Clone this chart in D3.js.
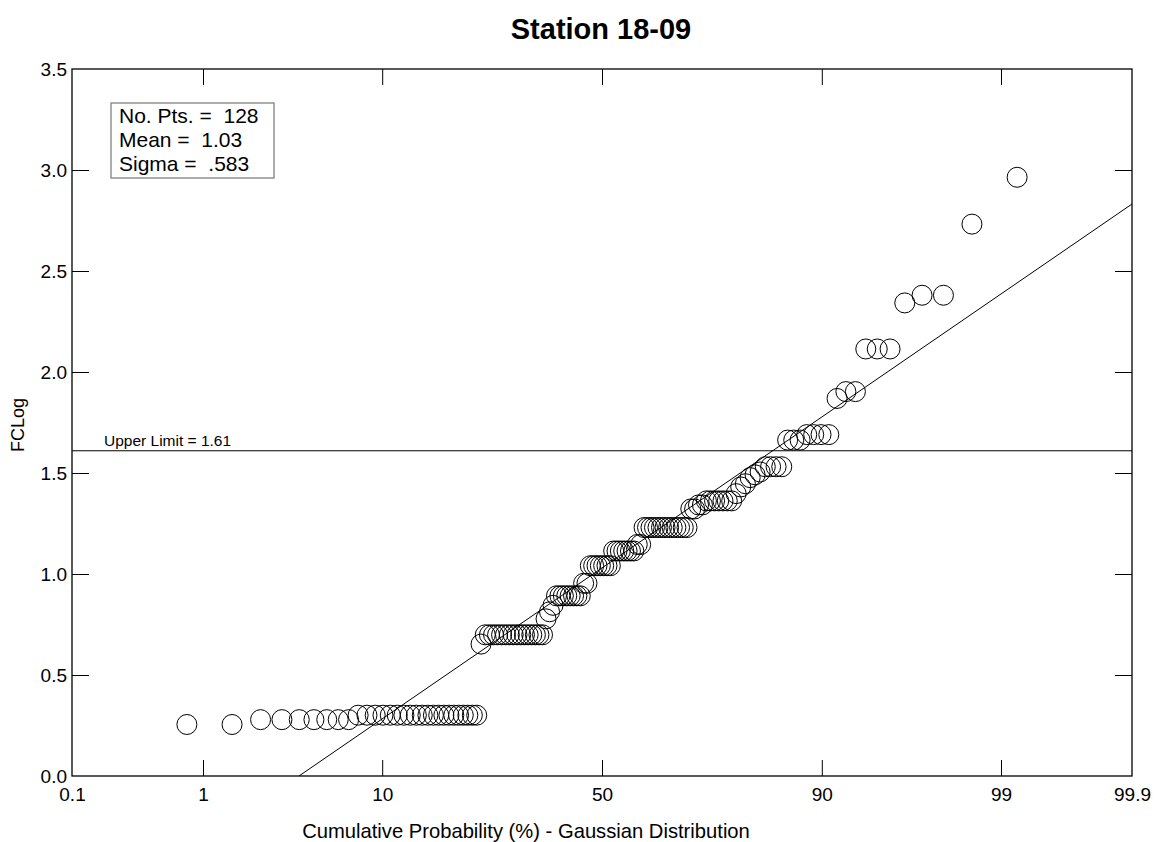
<!DOCTYPE html>
<html>
<head>
<meta charset="utf-8">
<script src="https://cdn.jsdelivr.net/npm/d3@7"></script>
<style>
  html, body { margin: 0; padding: 0; background: #fff; }
  svg { display: block; font-family: "Liberation Sans", Arial, sans-serif; }
</style>
</head>
<body>
<svg id="chart" width="1155" height="842"></svg>
<script>
// ---- data ----
const title = "Station 18-09";
const xTitle = "Cumulative Probability (%) - Gaussian Distribution";
const yTitle = "FCLog";
const probTicks = [0.1, 1, 10, 50, 90, 99, 99.9];
const probTickLabels = ["0.1", "1", "10", "50", "90", "99", "99.9"];
const yTicks = [0.0, 0.5, 1.0, 1.5, 2.0, 2.5, 3.0, 3.5];
const yTickLabels = ["0.0", "0.5", "1.0", "1.5", "2.0", "2.5", "3.0", "3.5"];
const nPts = 128;
const mean = 1.03;
const sigma = 0.583;
const upperLimit = 1.61;
const statLabels = ["No. Pts. =  128", "Mean =  1.03", "Sigma =  .583"];
const limitLabel = "Upper Limit = 1.61";
// sorted FCLog values (rank order)
const fcLog = [
  0.255, 0.255,
  0.279, 0.279, 0.279, 0.279, 0.279, 0.279, 0.279,
  0.301, 0.301, 0.301, 0.301, 0.301, 0.301, 0.301, 0.301, 0.301, 0.301, 0.301,
  0.301, 0.301, 0.301, 0.301, 0.301, 0.301, 0.301, 0.301, 0.301, 0.301,
  0.653,
  0.699, 0.699, 0.699, 0.699, 0.699, 0.699, 0.699, 0.699, 0.699, 0.699, 0.699,
  0.699, 0.699, 0.699, 0.699, 0.699,
  0.778, 0.813, 0.845,
  0.892, 0.892, 0.892, 0.892, 0.892, 0.892, 0.892, 0.892,
  0.954, 0.954,
  1.041, 1.041, 1.041, 1.041, 1.041, 1.041, 1.041,
  1.114, 1.114, 1.114, 1.114, 1.114, 1.114, 1.114,
  1.146, 1.146,
  1.230, 1.230, 1.230, 1.230, 1.230, 1.230, 1.230, 1.230, 1.230, 1.230, 1.230, 1.230, 1.230,
  1.322, 1.322, 1.342, 1.342,
  1.362, 1.362, 1.362, 1.362, 1.362, 1.362, 1.362,
  1.398, 1.431, 1.447, 1.477, 1.491, 1.505,
  1.531, 1.531, 1.531, 1.531,
  1.663, 1.663, 1.663,
  1.690, 1.690, 1.690, 1.690,
  1.869, 1.903, 1.903,
  2.114, 2.114, 2.114,
  2.342, 2.380, 2.380,
  2.732, 2.964
];

// ---- inverse normal CDF (Acklam) ----
function qnorm(p) {
  const a = [-3.969683028665376e+01, 2.209460984245205e+02, -2.759285104469687e+02, 1.383577518672690e+02, -3.066479806614716e+01, 2.506628277459239e+00];
  const b = [-5.447609879822406e+01, 1.615858368580409e+02, -1.556989798598866e+02, 6.680131188771972e+01, -1.328068155288572e+01];
  const c = [-7.784894002430293e-03, -3.223964580411365e-01, -2.400758277161838e+00, -2.549671010243490e+00, 4.374664141464968e+00, 2.938163982698783e+00];
  const d = [7.784695709041462e-03, 3.224671290700398e-01, 2.445134137142996e+00, 3.754408661907416e+00];
  const pl = 0.02425, ph = 1 - pl;
  let q, r;
  if (p < pl) {
    q = Math.sqrt(-2 * Math.log(p));
    return (((((c[0]*q+c[1])*q+c[2])*q+c[3])*q+c[4])*q+c[5]) / ((((d[0]*q+d[1])*q+d[2])*q+d[3])*q+1);
  } else if (p <= ph) {
    q = p - 0.5; r = q * q;
    return (((((a[0]*r+a[1])*r+a[2])*r+a[3])*r+a[4])*r+a[5])*q / (((((b[0]*r+b[1])*r+b[2])*r+b[3])*r+b[4])*r+1);
  } else {
    q = Math.sqrt(-2 * Math.log(1 - p));
    return -(((((c[0]*q+c[1])*q+c[2])*q+c[3])*q+c[4])*q+c[5]) / ((((d[0]*q+d[1])*q+d[2])*q+d[3])*q+1);
  }
}

// ---- layout ----
const L = 72, R = 1132, T = 69, B = 776;
const svg = d3.select("#chart");
const zMin = qnorm(probTicks[0] / 100), zMax = qnorm(probTicks[probTicks.length - 1] / 100);
const x = d3.scaleLinear().domain([zMin, zMax]).range([L, R]);
const y = d3.scaleLinear().domain([0, 3.5]).range([B, T]);

const font = "Liberation Sans, Arial, sans-serif";
const tickZ = probTicks.map(p => qnorm(p / 100));

// clip
svg.append("defs").append("clipPath").attr("id", "plotclip")
  .append("rect").attr("x", L).attr("y", T).attr("width", R - L).attr("height", B - T);

// bottom axis
const gx = svg.append("g").attr("transform", `translate(0,${B})`)
  .call(d3.axisBottom(x).tickValues(tickZ).tickFormat((d, i) => probTickLabels[i])
    .tickSizeInner(-16).tickSizeOuter(0).tickPadding(12));
gx.selectAll("text").attr("font-size", 19).attr("font-family", font).attr("fill", "#000");
gx.selectAll("line").attr("stroke", "#000").filter((d, i) => i === 0 || i === tickZ.length - 1).remove();
gx.select(".domain").remove();

// top axis (ticks only)
const gxt = svg.append("g").attr("transform", `translate(0,${T})`)
  .call(d3.axisTop(x).tickValues(tickZ.slice(1, -1)).tickFormat("").tickSizeInner(-16).tickSizeOuter(0));
gxt.select(".domain").remove();
gxt.selectAll("line").attr("stroke", "#000");

// left axis
const gy = svg.append("g").attr("transform", `translate(${L},0)`)
  .call(d3.axisLeft(y).tickValues(yTicks).tickFormat((d, i) => yTickLabels[i])
    .tickSizeInner(-17).tickSizeOuter(0).tickPadding(5));
gy.selectAll("text").attr("font-size", 19).attr("font-family", font).attr("fill", "#000");
gy.selectAll("line").attr("stroke", "#000").filter((d, i) => i === 0 || i === yTicks.length - 1).remove();
gy.select(".domain").remove();

// right axis (ticks only)
const gyr = svg.append("g").attr("transform", `translate(${R},0)`)
  .call(d3.axisRight(y).tickValues(yTicks.slice(1, -1)).tickFormat("").tickSizeInner(-17).tickSizeOuter(0));
gyr.select(".domain").remove();
gyr.selectAll("line").attr("stroke", "#000");

// frame
svg.append("rect").attr("x", L).attr("y", T).attr("width", R - L).attr("height", B - T)
  .attr("fill", "none").attr("stroke", "#000").attr("stroke-width", 1.3);

const plot = svg.append("g").attr("clip-path", "url(#plotclip)");

// upper limit line
plot.append("line").attr("x1", L).attr("x2", R).attr("y1", y(upperLimit)).attr("y2", y(upperLimit))
  .attr("stroke", "#000").attr("stroke-width", 1);
svg.append("text").attr("x", 104).attr("y", y(upperLimit) - 5)
  .attr("font-size", 15.5).attr("font-family", font).text(limitLabel);

// fitted normal line: value = mean + sigma * z
const zStart = (0 - mean) / sigma;
plot.append("line")
  .attr("x1", x(zStart)).attr("y1", y(0))
  .attr("x2", x(zMax)).attr("y2", y(mean + sigma * zMax))
  .attr("stroke", "#000").attr("stroke-width", 1);

// points at plotting position i/(n+1)
plot.selectAll("circle.pt").data(fcLog).enter().append("circle")
  .attr("class", "pt")
  .attr("cx", (d, i) => x(qnorm((i + 1) / (nPts + 1))))
  .attr("cy", d => y(d))
  .attr("r", 10)
  .attr("fill", "none").attr("stroke", "#000").attr("stroke-width", 1);

// stats box
svg.append("rect").attr("x", 111).attr("y", 103).attr("width", 163).attr("height", 75)
  .attr("fill", "#fff").attr("stroke", "#808080").attr("stroke-width", 1.3);
svg.append("g").selectAll("text").data(statLabels).enter().append("text")
  .attr("x", 119).attr("y", (d, i) => 123 + i * 24)
  .attr("font-size", 21).attr("font-family", font).attr("fill", "#000")
  .attr("xml:space", "preserve").style("white-space", "pre")
  .text(d => d);

// titles
svg.append("text").attr("x", 601).attr("y", 39).attr("text-anchor", "middle")
  .attr("font-size", 29).attr("font-weight", "bold").attr("font-family", font).text(title);
svg.append("text").attr("x", 526).attr("y", 838).attr("text-anchor", "middle")
  .attr("font-size", 20.2).attr("font-family", font).text(xTitle);
svg.append("text").attr("transform", "translate(24,425) rotate(-90)").attr("text-anchor", "middle")
  .attr("font-size", 18).attr("font-family", font).text(yTitle);
</script>
</body>
</html>
